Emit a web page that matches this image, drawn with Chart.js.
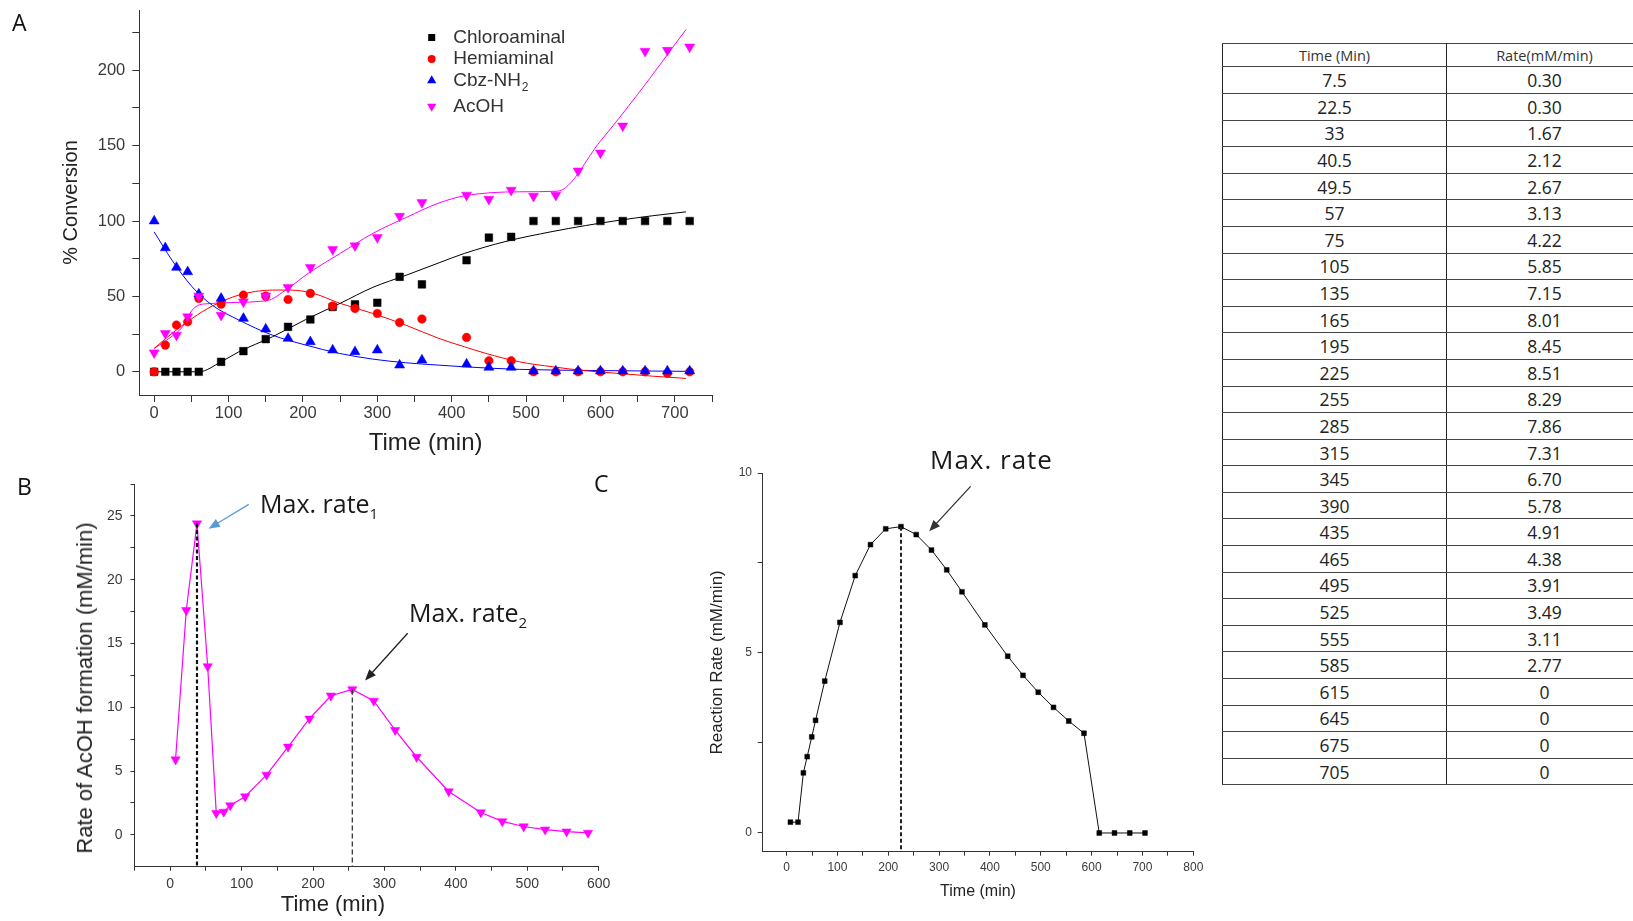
<!DOCTYPE html>
<html>
<head>
<meta charset="utf-8">
<title>Conversion and rate profiles</title>
<script src="https://cdn.jsdelivr.net/npm/chart.js@4.4.1/dist/chart.umd.min.js"></script>
<style>
  body { margin: 0; background: #fff; }
  #page { position: relative; width: 1633px; height: 921px; overflow: hidden; background: #fff; }
  canvas { position: absolute; }
  .note { position: absolute; font-family: "Open Sans", sans-serif; color: #1a1a1a; white-space: nowrap; line-height: 1; }
  .note sub { font-size: 15px; vertical-align: -6px; line-height: 1; }
  .panel { position: absolute; font-family: "Open Sans", sans-serif; font-size: 23px; line-height: 1; color: #111; }
  .axtitle { position: absolute; font-family: "Liberation Sans", Arial, sans-serif; color: #222; line-height: 1; text-align: center; white-space: nowrap; }
  #rateTable { position: absolute; left: 1222px; top: 43px; width: 420px; border-collapse: collapse; table-layout: fixed; font-family: "Open Sans", sans-serif; color: #222; }
  #rateTable th, #rateTable td { padding: 0; text-align: center; font-weight: normal; border-left: 1px solid #222; border-right: 1px solid #222; border-top: 1px solid #444; border-bottom: 1px solid #444; }
  #rateTable th { height: 22.4px; font-size: 14.5px; color: #333; }
  #rateTable td { height: 25.6px; font-size: 17.5px; }
</style>
</head>
<body>
<div id="page">
  <canvas id="chartA" width="730" height="460" style="left:0;top:0"></canvas>
  <canvas id="chartB" width="620" height="451" style="left:0;top:470px"></canvas>
  <canvas id="chartC" width="580" height="481" style="left:640px;top:440px"></canvas>

  <div class="panel" style="left:12px;top:11px">A</div>
  <div class="panel" style="left:17px;top:475px">B</div>
  <div class="panel" style="left:594px;top:472px">C</div>

  <div class="note" style="left:260px;top:491px;font-size:25px">Max. rate<sub>1</sub></div>
  <div class="note" style="left:409px;top:600px;font-size:25px">Max. rate<sub>2</sub></div>
  <div class="note" style="left:930px;top:446px;font-size:26px;letter-spacing:1px">Max. rate</div>

  <div class="axtitle" style="left:85px;top:688px;font-size:22px;transform:translate(-50%,-50%) rotate(-90deg)">Rate of AcOH formation (mM/min)</div>
  <div class="axtitle" style="left:233px;top:893px;width:200px;font-size:22px">Time (min)</div>

  <table id="rateTable">
    <colgroup><col style="width:224px"><col style="width:196px"></colgroup>
    <thead><tr><th>Time (Min)</th><th>Rate(mM/min)</th></tr></thead>
    <tbody></tbody>
  </table>
</div>

<script>
// ---- panel A: % conversion vs time ----
const timeA = [0, 15, 30, 45, 60, 90, 120, 150, 180, 210, 240, 270, 300, 330, 360, 420, 450, 480, 510, 540, 570, 600, 630, 660, 690, 720];
const chloroaminal = [0, 0, 0, 0, 0, 6.6, 13.7, 21.7, 29.8, 34.7, 43, 44.7, 45.8, 63, 58, 74, 89, 89.5, 100, 100, 100, 100, 100, 100, 100, 100];
const hemiaminal = [0, 17.7, 31, 33.2, 48.7, 44.9, 50.9, 50.2, 48, 52, 43.6, 42, 38.7, 32.7, 35, 22.8, 7.3, 7.3, 0, 0, 0, 0, 0, 0, -1, 0];
const cbzNH2 = [100, 82.2, 69.2, 66.3, 51.5, 48.7, 35.4, 28.3, 22.1, 19.9, 14.4, 13.3, 14.4, 4.4, 7.8, 5.1, 2.9, 2.9, 0.5, 0.5, 0.5, 0.5, 0.5, 0.5, 0.5, 0.5];
const acOH = [12.6, 25.5, 24.3, 36.5, 50.2, 37.6, 46.4, 50.4, 56, 69.2, 81.2, 83.6, 89.1, 103.2, 112.3, 117.2, 114.5, 120.5, 116.5, 117.2, 133.3, 145.2, 163.1, 212.7, 213.3, 215.5];

// fitted curves
const chloroFitT = [0, 60, 90, 114, 159, 204, 250, 294, 339, 383, 417, 473, 535, 580, 625, 670, 715];
const chloroFitV = [0, 0, 6.6, 13.3, 23.2, 34.7, 45.4, 56, 64.1, 72.3, 78.5, 86.5, 93, 97, 100.5, 103.5, 106.1];
const hemiFitT = [0, 24, 51, 78, 114, 159, 183, 214, 250, 294, 338, 383, 417, 446, 491, 536, 580, 625, 670, 715];
const hemiFitV = [15.5, 25.5, 35.4, 43.6, 50.9, 54.2, 54.2, 52, 45.4, 38.7, 31, 22.1, 16.6, 12.2, 6.6, 3.3, 0.7, -1.1, -2.9, -4.4];
const cbzFitT = [0, 24, 51, 78, 114, 159, 204, 249, 294, 338, 383, 417, 491, 600, 715];
const cbzFitV = [92.8, 74, 56.4, 44.2, 34.3, 24.3, 17.7, 12.2, 8.4, 6, 4.4, 3.3, 1.6, 0.8, 0.3];
const acohFitT = [0, 20, 38, 51, 65, 150, 180, 207, 250, 294, 339, 383, 417, 491, 542, 600, 650, 715];
const acohFitV = [15.5, 22.1, 29.8, 40.9, 44.9, 47, 55.3, 65.3, 78.5, 91.8, 102.4, 112, 116.7, 119.4, 119.8, 153, 184, 227];

const ticksAx = [0, 50, 100, 150, 200, 250, 300, 350, 400, 450, 500, 550, 600, 650, 700, 750];
const labelsAx = [0, 100, 200, 300, 400, 500, 600, 700];
const ticksAy = [0, 25, 50, 75, 100, 125, 150, 175, 200, 225];
const labelsAy = [0, 50, 100, 150, 200];

// ---- panel B: rate of AcOH formation ----
const timeB = [7.5, 22.5, 37.5, 52.5, 64.5, 75, 84, 105, 135, 165, 195, 225, 255, 285, 315, 345, 390, 435, 465, 495, 525, 555, 585];
const rateB = [5.9, 17.6, 24.4, 13.2, 1.7, 1.8, 2.3, 3.0, 4.7, 6.9, 9.1, 10.9, 11.4, 10.5, 8.2, 6.1, 3.4, 1.75, 1.05, 0.65, 0.4, 0.25, 0.15];
const ticksBx = [-50, 0, 50, 100, 150, 200, 250, 300, 350, 400, 450, 500, 550, 600];
const labelsBx = [0, 100, 200, 300, 400, 500, 600];
const ticksBy = [0, 2.5, 5, 7.5, 10, 12.5, 15, 17.5, 20, 22.5, 25, 27.5];
const labelsBy = [0, 5, 10, 15, 20, 25];

// ---- panel C: reaction rate (also listed in the table) ----
const timeC = [7.5, 22.5, 33, 40.5, 49.5, 57, 75, 105, 135, 165, 195, 225, 255, 285, 315, 345, 390, 435, 465, 495, 525, 555, 585, 615, 645, 675, 705];
const rateC = [0.30, 0.30, 1.67, 2.12, 2.67, 3.13, 4.22, 5.85, 7.15, 8.01, 8.45, 8.51, 8.29, 7.86, 7.31, 6.70, 5.78, 4.91, 4.38, 3.91, 3.49, 3.11, 2.77, 0, 0, 0, 0];
const ticksCx = [0, 50, 100, 150, 200, 250, 300, 350, 400, 450, 500, 550, 600, 650, 700, 750, 800];
const labelsCx = [0, 100, 200, 300, 400, 500, 600, 700, 800];
const ticksCy = [0, 2.5, 5, 7.5, 10];
const labelsCy = [0, 5, 10];

const FONT = '"Liberation Sans", Arial, sans-serif';
Chart.defaults.font.family = FONT;
Chart.defaults.animation = false;

const xy = (xs, ys) => xs.map((x, i) => ({ x: x, y: ys[i] }));

function markers(label, xs, ys, color, style, radius, rotation, order) {
    return {
        label: label, data: xy(xs, ys), showLine: false, order: order,
        pointStyle: style, pointRadius: radius, pointRotation: rotation,
        pointBackgroundColor: color, pointBorderColor: color, pointBorderWidth: 0.5
    };
}

function curve(xs, ys, color) {
    return {
        data: xy(xs, ys), showLine: true, order: 10, borderColor: color, borderWidth: 1,
        pointRadius: 0, cubicInterpolationMode: 'monotone'
    };
}

function dropLine(x, yTop, yBottom, width, dash, color) {
    return {
        data: [{ x: x, y: yTop }, { x: x, y: yBottom }], showLine: true, order: 0,
        borderColor: color, borderWidth: width, borderDash: dash, pointRadius: 0
    };
}

function axis(o) {
    return {
        type: 'linear', min: o.min, max: o.max,
        afterBuildTicks: s => { s.ticks = o.ticks.map(v => ({ value: v })); },
        // fixed scale sizes so the plot frame lands where the original has it
        afterFit: s => {
            if (s.isHorizontal()) { s.height = o.size; s.paddingLeft = 0; s.paddingRight = 0; }
            else { s.width = o.size; s.paddingTop = 0; s.paddingBottom = 0; }
        },
        ticks: {
            autoSkip: false, maxRotation: 0, padding: o.pad, color: '#3a3a3a',
            font: { family: FONT, size: o.font },
            callback: v => o.labels.includes(v) ? String(v) : ''
        },
        grid: { drawOnChartArea: false, drawTicks: true, tickLength: o.tickLen, tickColor: '#333', tickWidth: 1 },
        border: { display: true, color: '#333', width: 1 },
        title: o.title
            ? { display: true, text: o.title, color: '#222', font: { family: FONT, size: o.titleSize }, padding: o.titlePad }
            : { display: false }
    };
}

// arrows, given in data units
const arrowPlugin = {
    id: 'arrows',
    afterDatasetsDraw(chart, args, opts) {
        const { ctx, scales } = chart;
        (opts.items || []).forEach(a => {
            const x1 = scales.x.getPixelForValue(a.from[0]), y1 = scales.y.getPixelForValue(a.from[1]);
            const x2 = scales.x.getPixelForValue(a.to[0]), y2 = scales.y.getPixelForValue(a.to[1]);
            const ang = Math.atan2(y2 - y1, x2 - x1);
            ctx.save();
            ctx.strokeStyle = a.color;
            ctx.fillStyle = a.color;
            ctx.lineWidth = 1.3;
            ctx.beginPath();
            ctx.moveTo(x1, y1);
            ctx.lineTo(x2 - 8 * Math.cos(ang), y2 - 8 * Math.sin(ang));
            ctx.stroke();
            ctx.beginPath();
            ctx.moveTo(x2, y2);
            ctx.lineTo(x2 - 12 * Math.cos(ang - 0.38), y2 - 12 * Math.sin(ang - 0.38));
            ctx.lineTo(x2 - 12 * Math.cos(ang + 0.38), y2 - 12 * Math.sin(ang + 0.38));
            ctx.closePath();
            ctx.fill();
            ctx.restore();
        });
    }
};

// legend block drawn inside panel A
const boxLegend = {
    id: 'boxLegend',
    afterDraw(chart, args, opts) {
        if (!opts.rows) return;
        const ctx = chart.ctx;
        ctx.save();
        ctx.textBaseline = 'middle';
        opts.rows.forEach((row, i) => {
            const ds = chart.data.datasets[row];
            ctx.fillStyle = ds.pointBackgroundColor;
            Chart.helpers.drawPoint(ctx, { pointStyle: ds.pointStyle, rotation: ds.pointRotation, radius: ds.pointRadius * 0.92, borderWidth: 0 }, opts.markerX, opts.rowY[i]);
            let text = ds.label, sub = '';
            const m = text.match(/[\u2080-\u2089]$/);
            if (m) { sub = String.fromCharCode(m[0].charCodeAt(0) - 0x2080 + 48); text = text.slice(0, -1); }
            ctx.fillStyle = '#333';
            ctx.font = '19px ' + FONT;
            ctx.fillText(text, opts.textX, opts.rowY[i]);
            if (sub) {
                const w = ctx.measureText(text).width;
                ctx.font = '12px ' + FONT;
                ctx.fillText(sub, opts.textX + w + 1, opts.rowY[i] + 7.5);
            }
        });
        ctx.restore();
    }
};

// ---------- chart A ----------
new Chart(document.getElementById('chartA'), {
    type: 'scatter',
    data: {
        datasets: [
            markers('Chloroaminal', timeA, chloroaminal, '#000000', 'rect', 5.4, 0, 4),
            markers('Hemiaminal', timeA, hemiaminal, '#ff0000', 'circle', 4.3, 0, 3),
            markers('Cbz-NH\u2082', timeA, cbzNH2, '#0000ff', 'triangle', 5.8, 0, 2),
            markers('AcOH', timeA, acOH, '#ff00ff', 'triangle', 5.8, 180, 1),
            curve(chloroFitT, chloroFitV, '#000000'),
            curve(hemiFitT, hemiFitV, '#ff0000'),
            curve(cbzFitT, cbzFitV, '#0000ff'),
            curve(acohFitT, acohFitV, '#ff00ff')
        ]
    },
    options: {
        responsive: false,
        events: [],
        layout: { padding: { left: 0, top: 10, right: 18, bottom: 0 } },
        plugins: {
            legend: { display: false },
            tooltip: { enabled: false },
            boxLegend: { rows: [0, 1, 2, 3], markerX: 431.7, textX: 453.3, rowY: [37.5, 59, 80.5, 106.5] }
        },
        scales: {
            x: axis({ min: -20, max: 750, ticks: ticksAx, labels: labelsAx, size: 65, pad: 2, font: 16.5, tickLen: 7,
                      title: 'Time (min)', titleSize: 24, titlePad: { top: 0, bottom: 2.3 } }),
            y: axis({ min: -15.4, max: 240, ticks: ticksAy, labels: labelsAy, size: 139.3, pad: 7, font: 16.5, tickLen: 7,
                      title: '% Conversion', titleSize: 20, titlePad: { top: 59.7, bottom: 0 } })
        }
    },
    plugins: [boxLegend]
});

// ---------- chart B ----------
const peakB1 = rateB.indexOf(Math.max(...rateB));
const peakB2 = rateB.reduce((best, v, i) => (timeB[i] > 100 && (best < 0 || v > rateB[best])) ? i : best, -1);
const minBy = -2.5;

new Chart(document.getElementById('chartB'), {
    type: 'scatter',
    data: {
        datasets: [
            dropLine(timeB[peakB1], rateB[peakB1], minBy, 2.2, [4, 2.5], '#111'),
            dropLine(timeB[peakB2], rateB[peakB2], minBy, 1.3, [5, 3], '#333'),
            {
                label: 'AcOH rate', data: xy(timeB, rateB), showLine: true, order: 5,
                borderColor: '#ff00ff', borderWidth: 1.2,
                pointStyle: 'triangle', pointRotation: 180, pointRadius: 5.4,
                pointBackgroundColor: '#ff00ff', pointBorderColor: '#ff00ff', pointBorderWidth: 0.5
            }
        ]
    },
    options: {
        responsive: false,
        events: [],
        layout: { padding: { left: 0, top: 14, right: 21.3, bottom: 0 } },
        plugins: {
            legend: { display: false },
            tooltip: { enabled: false },
            arrows: { items: [
                { from: [110, 25.9], to: [53.8, 24.0], color: '#5b9bd5' },
                { from: [332.5, 15.8], to: [272.9, 12.1], color: '#222' }
            ] }
        },
        scales: {
            x: axis({ min: -50, max: 600, ticks: ticksBx, labels: labelsBx, size: 54.3, pad: 4.9, font: 14, tickLen: 4 }),
            y: axis({ min: minBy, max: 27.5, ticks: ticksBy, labels: labelsBy, size: 134.5, pad: 8, font: 14, tickLen: 4 })
        }
    },
    plugins: [arrowPlugin]
});

// ---------- chart C ----------
const peakC = rateC.indexOf(Math.max(...rateC));
const minCy = -0.52;

new Chart(document.getElementById('chartC'), {
    type: 'scatter',
    data: {
        datasets: [
            dropLine(timeC[peakC], rateC[peakC], minCy, 2, [4, 2.5], '#222'),
            {
                label: 'Reaction rate', data: xy(timeC, rateC), showLine: true, order: 5,
                borderColor: '#111', borderWidth: 1,
                pointStyle: 'rect', pointRadius: 3.4,
                pointBackgroundColor: '#000', pointBorderColor: '#000', pointBorderWidth: 0.5
            }
        ]
    },
    options: {
        responsive: false,
        events: [],
        layout: { padding: { left: 0, top: 33, right: 26.7, bottom: 0 } },
        plugins: {
            legend: { display: false },
            tooltip: { enabled: false },
            arrows: { items: [{ from: [362, 9.63], to: [280.5, 8.38], color: '#333' }] }
        },
        scales: {
            x: axis({ min: -47, max: 800, ticks: ticksCx, labels: labelsCx, size: 69.3, pad: 4.4, font: 12, tickLen: 4,
                      title: 'Time (min)', titleSize: 16, titlePad: { top: 0, bottom: 19.7 } }),
            y: axis({ min: minCy, max: 10, ticks: ticksCy, labels: labelsCy, size: 122.7, pad: 5.7, font: 12, tickLen: 5,
                      title: 'Reaction Rate (mM/min)', titleSize: 17, titlePad: { top: 67.4, bottom: 0 } })
        }
    },
    plugins: [arrowPlugin]
});

// ---------- table of panel C values ----------
const tbody = document.querySelector('#rateTable tbody');
timeC.forEach((t, i) => {
    const tr = document.createElement('tr');
    const r = rateC[i] === 0 ? '0' : rateC[i].toFixed(2);
    tr.innerHTML = '<td>' + t + '</td><td>' + r + '</td>';
    tbody.appendChild(tr);
});
</script>
</body>
</html>
